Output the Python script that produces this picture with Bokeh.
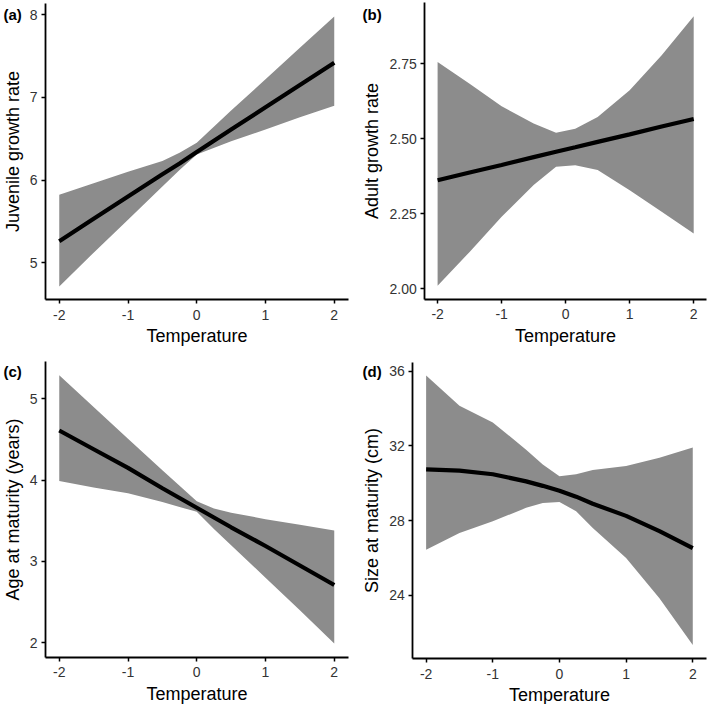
from bokeh.plotting import figure
from bokeh.layouts import column, row
from bokeh.models import Range1d, FixedTicker, Label
from bokeh.embed import file_html
from bokeh.resources import INLINE

# ---- data ----
x_ticks = [-2, -1, 0, 1, 2]
x_labels = ["-2", "-1", "0", "1", "2"]
x_limits = (-2.2, 2.2)

# (a) Juvenile growth rate
temp_a = [-2, -1.5, -1, -0.5, -0.25, 0, 0.5, 1, 1.5, 2]
upper_a = [5.82, 5.96, 6.10, 6.23, 6.33, 6.45, 6.84, 7.22, 7.60, 7.98]
lower_a = [4.71, 5.12, 5.52, 5.92, 6.12, 6.31, 6.47, 6.61, 6.76, 6.90]
fit_a = [5.26, 5.53, 5.80, 6.07, 6.20, 6.34, 6.61, 6.88, 7.15, 7.42]
yticks_a = [5, 6, 7, 8]
ylab_a = ["5", "6", "7", "8"]
ylim_a = (4.55, 8.14)

# (b) Adult growth rate
temp_b = [-2, -1.5, -1, -0.5, -0.15, 0.15, 0.5, 1, 1.5, 2]
upper_b = [2.756, 2.684, 2.609, 2.551, 2.520, 2.534, 2.573, 2.662, 2.779, 2.909]
lower_b = [2.010, 2.123, 2.240, 2.346, 2.407, 2.412, 2.396, 2.329, 2.257, 2.184]
fit_b = [2.362, 2.388, 2.413, 2.439, 2.457, 2.472, 2.490, 2.515, 2.541, 2.566]
yticks_b = [2.0, 2.25, 2.5, 2.75]
ylab_b = ["2.00", "2.25", "2.50", "2.75"]
ylim_b = (1.966, 2.954)

# (c) Age at maturity (years)
temp_c = [-2, -1.5, -1, -0.5, -0.25, 0, 0.25, 0.5, 1, 1.5, 2]
upper_c = [5.29, 4.90, 4.51, 4.12, 3.93, 3.74, 3.65, 3.60, 3.52, 3.45, 3.38]
lower_c = [3.99, 3.91, 3.84, 3.73, 3.67, 3.61, 3.40, 3.20, 2.80, 2.40, 1.99]
fit_c = [4.61, 4.38, 4.15, 3.90, 3.78, 3.66, 3.54, 3.42, 3.19, 2.95, 2.71]
yticks_c = [2, 3, 4, 5]
ylab_c = ["2", "3", "4", "5"]
ylim_c = (1.825, 5.455)

# (d) Size at maturity (cm)
temp_d = [-2, -1.5, -1, -0.5, -0.25, 0, 0.25, 0.5, 1, 1.5, 2]
upper_d = [35.77, 34.15, 33.26, 31.80, 31.00, 30.38, 30.48, 30.71, 30.92, 31.37, 31.91]
lower_d = [26.44, 27.34, 27.96, 28.68, 28.94, 29.00, 28.50, 27.60, 25.99, 23.84, 21.33]
fit_d = [30.74, 30.68, 30.48, 30.10, 29.86, 29.60, 29.28, 28.90, 28.25, 27.43, 26.53]
yticks_d = [24, 28, 32, 36]
ylab_d = ["24", "28", "32", "36"]
ylim_d = (20.61, 36.49)

FONT = "Liberation Sans"
RIBBON = "#8c8c8c"


def panel(tag, ylabel, temp, upper, lower, fit, yticks, ylabs, ylim,
          W, H, L, R, T, B, tag_x, tag_top):
    # the frame covers the whole cell; axes sit at the panel's edges
    x0, x1 = x_limits
    y0, y1 = ylim
    kx = (W - L - R) / (x1 - x0)
    ky = (H - T - B) / (y1 - y0)
    p = figure(width=W, height=H, output_backend="svg", toolbar_location=None,
               x_range=Range1d(x0 - L / kx, x1 + R / kx),
               y_range=Range1d(y0 - B / ky, y1 + T / ky),
               min_border_left=0, min_border_right=0,
               min_border_top=0, min_border_bottom=0)
    p.outline_line_color = None
    p.xgrid.visible = False
    p.ygrid.visible = False

    p.varea(x=temp, y1=lower, y2=upper, fill_color=RIBBON, fill_alpha=1.0)
    p.line(x=temp, y=fit, line_color="black", line_width=4.2)

    xa, ya = p.xaxis[0], p.yaxis[0]
    xa.fixed_location = y0
    xa.bounds = (x0, x1)
    ya.fixed_location = x0
    ya.bounds = (y0, y1)
    for ax, ticks, labs, lab in ((xa, x_ticks, x_labels, "Temperature"),
                                 (ya, yticks, ylabs, ylabel)):
        ax.ticker = FixedTicker(ticks=ticks)
        ax.major_label_overrides = {t: l for t, l in zip(ticks, labs)}
        ax.axis_label = lab
        ax.axis_label_text_font = FONT
        ax.axis_label_text_font_size = "18px"
        ax.axis_label_text_font_style = "normal"
        ax.axis_label_text_color = "black"
        ax.axis_label_standoff = 4
        ax.major_label_text_font = FONT
        ax.major_label_text_font_size = "14px"
        ax.major_label_text_color = "#333333"
        ax.major_label_standoff = 4
        ax.axis_line_color = "black"
        ax.axis_line_width = 1.8
        ax.major_tick_line_color = "black"
        ax.major_tick_line_width = 1.5
        ax.major_tick_out = 4
        ax.major_tick_in = 0
        ax.minor_tick_line_color = None
    xa.major_label_standoff = 6
    xa.axis_label_standoff = 3

    p.add_layout(Label(x=tag_x, y=H - tag_top, x_units="screen",
                       y_units="screen", text=tag, text_font=FONT,
                       text_font_size="15px", text_font_style="bold",
                       text_color="black", text_baseline="top",
                       text_align="left"))
    return p


pa = panel("(a)", "Juvenile growth rate", temp_a, upper_a, lower_a, fit_a,
           yticks_a, ylab_a, ylim_a, 355, 350, 45, 7.5, 2.7, 50.7, 3, 5)
pb = panel("(b)", "Adult growth rate", temp_b, upper_b, lower_b, fit_b,
           yticks_b, ylab_b, ylim_b, 354, 350, 69.3, 3, 2.2, 51.5, 7, 5)
pc = panel("(c)", "Age at maturity (years)", temp_c, upper_c, lower_c, fit_c,
           yticks_c, ylab_c, ylim_c, 355, 354, 45, 7.5, 11.3, 47.5, 3, 12)
pd_ = panel("(d)", "Size at maturity (cm)", temp_d, upper_d, lower_d, fit_d,
            yticks_d, ylab_d, ylim_d, 354, 354, 57.3, 3.4, 11.6, 46, 7, 12)

layout = column(row(pa, pb, spacing=0), row(pc, pd_, spacing=0), spacing=0)

open("out.html", "w").write(file_html(layout, INLINE))
